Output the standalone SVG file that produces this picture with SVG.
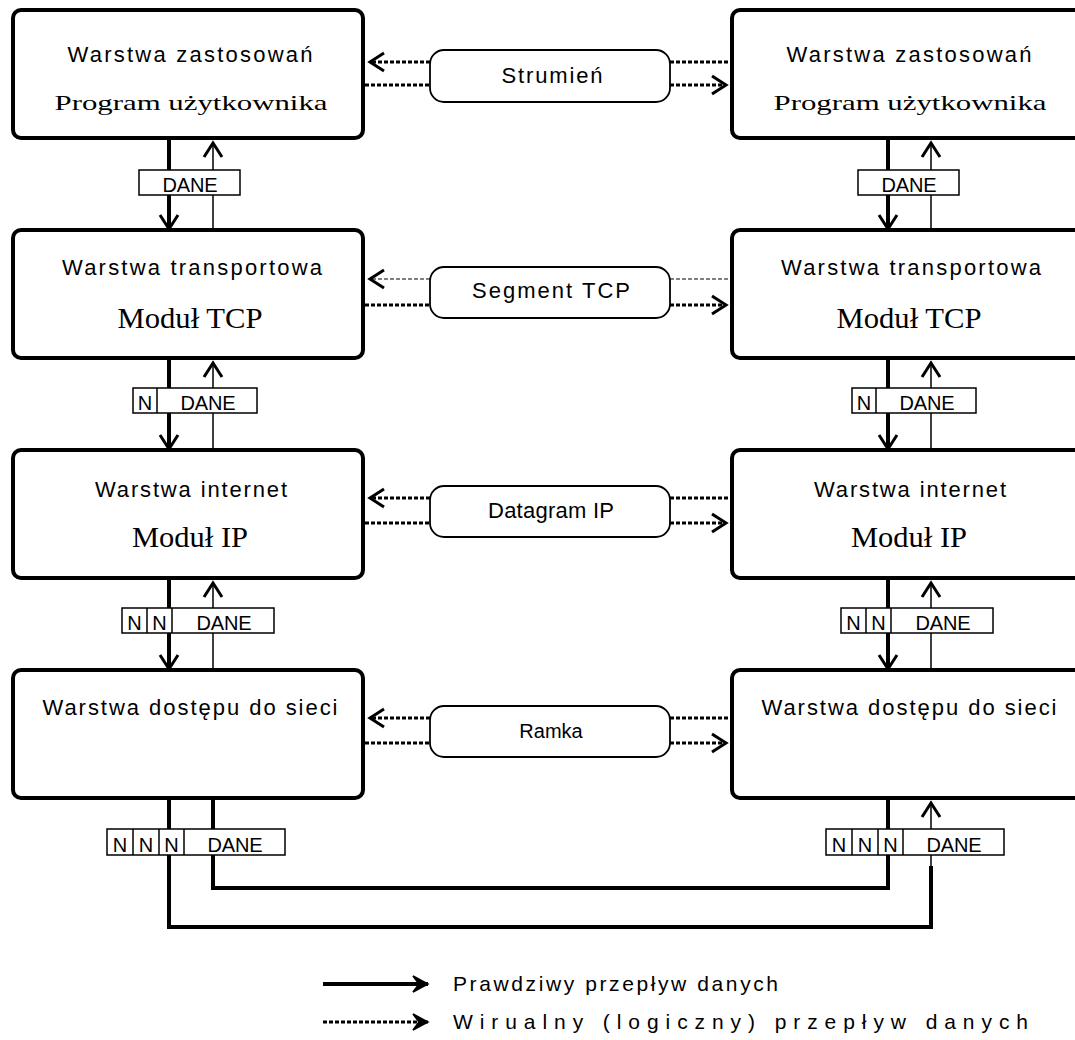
<svg xmlns="http://www.w3.org/2000/svg" width="1075" height="1040" viewBox="0 0 1075 1040">
<style>
.box{fill:#fff;stroke:#000;stroke-width:4}
.sans{font-family:"Liberation Sans",Arial,sans-serif;font-size:20px;fill:#000;text-anchor:middle}
.lbl{font-size:22px}
.serif{font-family:"Liberation Serif","Times New Roman",serif;fill:#000;text-anchor:middle}
.pill{fill:#fff;stroke:#000;stroke-width:1.8}
.pkt{fill:#fff;stroke:#000;stroke-width:1.5}
.thick{stroke:#000;stroke-width:4;fill:none}
.thin{stroke:#000;stroke-width:1.5;fill:none}
.dot{stroke:#000;stroke-width:3;stroke-dasharray:4 2;fill:none}
.dash{stroke:#000;stroke-width:1.2;stroke-dasharray:4 2;fill:none}
</style>
<defs>
<marker id="chev" markerUnits="userSpaceOnUse" viewBox="-18 -12 22 24" refX="0" refY="0" markerWidth="22" markerHeight="24" orient="auto" overflow="visible">
<path d="M-14,-9 L0,0 L-14,9" fill="none" stroke="#000" stroke-width="3"/>
</marker>
<marker id="legchev" markerUnits="userSpaceOnUse" viewBox="-18 -12 22 24" refX="0" refY="0" markerWidth="22" markerHeight="24" orient="auto" overflow="visible">
<path d="M-15,-8 L0,0 L-15,8 L-9,0 Z" fill="#000" stroke="#000" stroke-width="1.5"/>
</marker>
</defs>

<g id="connectors">
<line class="thick" x1="169" y1="138" x2="169" y2="229" marker-end="url(#chev)"/>
<line class="thin" x1="213" y1="230" x2="213" y2="143" marker-end="url(#chev)"/>
<line class="thick" x1="169" y1="358" x2="169" y2="449" marker-end="url(#chev)"/>
<line class="thin" x1="213" y1="450" x2="213" y2="363" marker-end="url(#chev)"/>
<line class="thick" x1="169" y1="578" x2="169" y2="669" marker-end="url(#chev)"/>
<line class="thin" x1="213" y1="670" x2="213" y2="583" marker-end="url(#chev)"/>
<line class="thick" x1="888" y1="138" x2="888" y2="229" marker-end="url(#chev)"/>
<line class="thin" x1="931" y1="230" x2="931" y2="143" marker-end="url(#chev)"/>
<line class="thick" x1="888" y1="358" x2="888" y2="449" marker-end="url(#chev)"/>
<line class="thin" x1="931" y1="450" x2="931" y2="363" marker-end="url(#chev)"/>
<line class="thick" x1="888" y1="578" x2="888" y2="669" marker-end="url(#chev)"/>
<line class="thin" x1="931" y1="670" x2="931" y2="583" marker-end="url(#chev)"/>
<path class="thick" d="M169,798 V927 H931 V866"/>
<line class="thin" x1="931" y1="866" x2="931" y2="803" marker-end="url(#chev)"/>
<path class="thick" d="M213,798 V888 H888 V798"/>

<line class="dot" x1="430" y1="62" x2="370" y2="62" marker-end="url(#chev)"/>
<line class="dot" x1="365" y1="85" x2="430" y2="85"/>
<line class="dot" x1="670" y1="62" x2="730" y2="62"/>
<line class="dot" x1="670" y1="85" x2="726" y2="85" marker-end="url(#chev)"/>

<line class="dash" x1="430" y1="279" x2="370" y2="279" marker-end="url(#chev)"/>
<line class="dot" x1="365" y1="305" x2="430" y2="305"/>
<line class="dash" x1="670" y1="279" x2="730" y2="279"/>
<line class="dot" x1="670" y1="305" x2="726" y2="305" marker-end="url(#chev)"/>

<line class="dot" x1="430" y1="498" x2="370" y2="498" marker-end="url(#chev)"/>
<line class="dot" x1="365" y1="523" x2="430" y2="523"/>
<line class="dot" x1="670" y1="498" x2="730" y2="498"/>
<line class="dot" x1="670" y1="523" x2="726" y2="523" marker-end="url(#chev)"/>

<line class="dot" x1="430" y1="718" x2="370" y2="718" marker-end="url(#chev)"/>
<line class="dot" x1="365" y1="743" x2="430" y2="743"/>
<line class="dot" x1="670" y1="718" x2="730" y2="718"/>
<line class="dot" x1="670" y1="743" x2="726" y2="743" marker-end="url(#chev)"/>
</g>

<g id="left-app">
<rect class="box" x="13" y="10" width="350" height="128" rx="8"/>
<text class="sans lbl" x="190" y="62" textLength="245" lengthAdjust="spacing">Warstwa zastosowań</text>
<text class="serif" x="191" y="110" font-size="22" textLength="273" lengthAdjust="spacingAndGlyphs">Program użytkownika</text>
</g>
<g id="left-transport">
<rect class="box" x="13" y="230" width="350" height="128" rx="8"/>
<text class="sans lbl" x="192" y="275" textLength="260" lengthAdjust="spacing">Warstwa transportowa</text>
<text class="serif" x="190" y="328" font-size="29" textLength="145" lengthAdjust="spacingAndGlyphs">Moduł TCP</text>
</g>
<g id="left-internet">
<rect class="box" x="13" y="450" width="350" height="128" rx="8"/>
<text class="sans lbl" x="191" y="497" textLength="192" lengthAdjust="spacing">Warstwa internet</text>
<text class="serif" x="190" y="547" font-size="29" textLength="116" lengthAdjust="spacingAndGlyphs">Moduł IP</text>
</g>
<g id="left-network">
<rect class="box" x="13" y="670" width="350" height="128" rx="8"/>
<text class="sans lbl" x="190" y="715" textLength="295" lengthAdjust="spacing">Warstwa dostępu do sieci</text>
</g>

<g id="right-app">
<rect class="box" x="732" y="10" width="350" height="128" rx="8"/>
<text class="sans lbl" x="909" y="62" textLength="245" lengthAdjust="spacing">Warstwa zastosowań</text>
<text class="serif" x="910" y="110" font-size="22" textLength="273" lengthAdjust="spacingAndGlyphs">Program użytkownika</text>
</g>
<g id="right-transport">
<rect class="box" x="732" y="230" width="350" height="128" rx="8"/>
<text class="sans lbl" x="911" y="275" textLength="260" lengthAdjust="spacing">Warstwa transportowa</text>
<text class="serif" x="909" y="328" font-size="29" textLength="145" lengthAdjust="spacingAndGlyphs">Moduł TCP</text>
</g>
<g id="right-internet">
<rect class="box" x="732" y="450" width="350" height="128" rx="8"/>
<text class="sans lbl" x="910" y="497" textLength="192" lengthAdjust="spacing">Warstwa internet</text>
<text class="serif" x="909" y="547" font-size="29" textLength="116" lengthAdjust="spacingAndGlyphs">Moduł IP</text>
</g>
<g id="right-network">
<rect class="box" x="732" y="670" width="350" height="128" rx="8"/>
<text class="sans lbl" x="909" y="715" textLength="295" lengthAdjust="spacing">Warstwa dostępu do sieci</text>
</g>

<g id="pill-strumien">
<rect class="pill" x="430" y="50" width="240" height="52" rx="14"/>
<text class="sans lbl" x="552" y="83" textLength="101" lengthAdjust="spacing">Strumień</text>
</g>
<g id="pill-segment">
<rect class="pill" x="430" y="267" width="240" height="51" rx="14"/>
<text class="sans lbl" x="551" y="298" textLength="158" lengthAdjust="spacing">Segment TCP</text>
</g>
<g id="pill-datagram">
<rect class="pill" x="430" y="486" width="240" height="51" rx="14"/>
<text class="sans lbl" x="551" y="518" textLength="126" lengthAdjust="spacing">Datagram IP</text>
</g>
<g id="pill-ramka">
<rect class="pill" x="430" y="706" width="240" height="51" rx="14"/>
<text class="sans" x="551" y="738">Ramka</text>
</g>

<g id="pkt-left-1">
<rect class="pkt" x="139" y="170" width="101" height="25"/>
<text class="sans" x="190" y="192" textLength="55" lengthAdjust="spacing">DANE</text>
</g>
<g id="pkt-left-2">
<rect class="pkt" x="133" y="388" width="124" height="25"/>
<line class="pkt" x1="157" y1="388" x2="157" y2="413"/>
<text class="sans" x="145" y="410">N</text>
<text class="sans" x="208" y="410" textLength="55" lengthAdjust="spacing">DANE</text>
</g>
<g id="pkt-left-3">
<rect class="pkt" x="122" y="608" width="152" height="25"/>
<line class="pkt" x1="147" y1="608" x2="147" y2="633"/>
<line class="pkt" x1="172" y1="608" x2="172" y2="633"/>
<text class="sans" x="134.5" y="630">N</text>
<text class="sans" x="159.5" y="630">N</text>
<text class="sans" x="224" y="630" textLength="55" lengthAdjust="spacing">DANE</text>
</g>
<g id="pkt-left-4">
<rect class="pkt" x="107" y="829" width="178" height="26"/>
<line class="pkt" x1="133" y1="829" x2="133" y2="855"/>
<line class="pkt" x1="159" y1="829" x2="159" y2="855"/>
<line class="pkt" x1="184" y1="829" x2="184" y2="855"/>
<text class="sans" x="120" y="852">N</text>
<text class="sans" x="146" y="852">N</text>
<text class="sans" x="171.5" y="852">N</text>
<text class="sans" x="235" y="852" textLength="55" lengthAdjust="spacing">DANE</text>
</g>

<g id="pkt-right-1">
<rect class="pkt" x="858" y="170" width="101" height="25"/>
<text class="sans" x="909" y="192" textLength="55" lengthAdjust="spacing">DANE</text>
</g>
<g id="pkt-right-2">
<rect class="pkt" x="852" y="388" width="124" height="25"/>
<line class="pkt" x1="876" y1="388" x2="876" y2="413"/>
<text class="sans" x="864" y="410">N</text>
<text class="sans" x="927" y="410" textLength="55" lengthAdjust="spacing">DANE</text>
</g>
<g id="pkt-right-3">
<rect class="pkt" x="841" y="608" width="152" height="25"/>
<line class="pkt" x1="866" y1="608" x2="866" y2="633"/>
<line class="pkt" x1="891" y1="608" x2="891" y2="633"/>
<text class="sans" x="853.5" y="630">N</text>
<text class="sans" x="878.5" y="630">N</text>
<text class="sans" x="943" y="630" textLength="55" lengthAdjust="spacing">DANE</text>
</g>
<g id="pkt-right-4">
<rect class="pkt" x="826" y="829" width="178" height="26"/>
<line class="pkt" x1="852" y1="829" x2="852" y2="855"/>
<line class="pkt" x1="878" y1="829" x2="878" y2="855"/>
<line class="pkt" x1="903" y1="829" x2="903" y2="855"/>
<text class="sans" x="839" y="852">N</text>
<text class="sans" x="865" y="852">N</text>
<text class="sans" x="890.5" y="852">N</text>
<text class="sans" x="954" y="852" textLength="55" lengthAdjust="spacing">DANE</text>
</g>

<g id="legend">
<line class="thick" x1="323" y1="984" x2="428" y2="984" stroke-width="3" marker-end="url(#legchev)"/>
<text class="sans" x="453" y="991" font-size="21" style="text-anchor:start;font-size:21px" textLength="325" lengthAdjust="spacing">Prawdziwy przepływ danych</text>
<line class="dot" x1="323" y1="1022" x2="428" y2="1022" stroke-width="2.5" marker-end="url(#legchev)"/>
<text class="sans" x="453" y="1029" style="text-anchor:start;font-size:21px" textLength="575" lengthAdjust="spacing">Wirualny (logiczny) przepływ danych</text>
</g>
</svg>
